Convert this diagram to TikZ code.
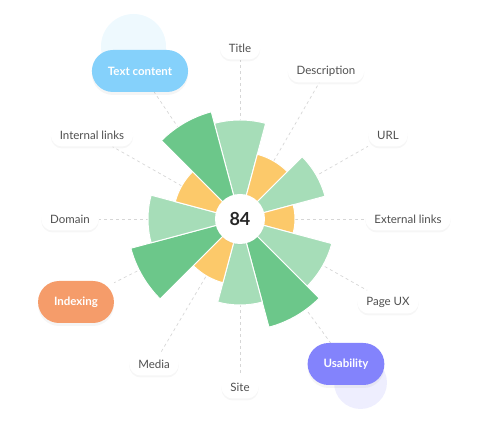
\documentclass[tikz,border=0pt]{standalone}
\usepackage{fontspec}
\setmainfont{Lato}
\usetikzlibrary{shadows,backgrounds}
\definecolor{darkg}{HTML}{6CC78A}
\definecolor{lightg}{HTML}{A6DDB8}
\definecolor{amber}{HTML}{FCC96A}
\definecolor{skyblue}{HTML}{85D1FB}
\definecolor{peach}{HTML}{F59C6A}
\definecolor{violet}{HTML}{8383FC}
\definecolor{txtgray}{HTML}{505050}
\definecolor{dashgray}{HTML}{D6D6D6}
\begin{document}
\begin{tikzpicture}[x=1pt,y=1pt,
lbl/.style={%
fill=white,
text=txtgray,
font=\fontsize{11.5}{13}\selectfont,
minimum height=23pt,
inner xsep=9pt,
rounded corners=11.5pt,
drop shadow={shadow xshift=0pt,shadow yshift=-2pt,opacity=.07}
},
big/.style={%
text=white,
font=\fontsize{11.5}{13}\selectfont\bfseries,
minimum height=42pt,
inner xsep=16pt,
rounded corners=21pt,
drop shadow={shadow xshift=0pt,shadow yshift=-3pt,opacity=.08}
},
spoke/.style={%
draw=dashgray,
dashed,
line width=.7pt
},
]
\useasboundingbox(-240,-211)rectangle(240,219);
%% score
\node[circle,fill=white,minimum size=50pt,inner sep=0pt,text=black!85,
  font=\fontsize{18}{20}\selectfont\bfseries,
  drop shadow={shadow xshift=0pt,shadow yshift=-1pt,opacity=.06}]at(0,0)(score){84};
%% criteria
\node[lbl]at(0,171)(title){Title};
\node[lbl]at(86,148)(desc){Description};
\node[lbl]at(148,84)(url){URL};
\node[lbl]at(168,0)(ext){External links};
\node[lbl]at(148,-83)(pageux){Page UX};
\node[lbl]at(0,-168)(site){Site};
\node[lbl]at(-86,-145)(media){Media};
\node[lbl]at(-170,0)(domain){Domain};
\node[lbl]at(-148,84)(internal){Internal links};
%% groups
\node[big,fill=skyblue]at(-100,148)(text){Text content};
\node[big,fill=peach]at(-164,-83)(indexing){Indexing};
\node[big,fill=violet]at(106,-145)(usability){Usability};
\begin{scope}[on background layer]
\fill[skyblue!14](-106.5,172.5)circle(32.5);
\fill[violet!14](120.5,-163.5)circle(26.5);
\foreach \n in {title,desc,url,ext,pageux,usability,site,media,indexing,domain,internal,text}
  \draw[spoke](score)--(\n);
\foreach \a/\r/\c in {90/99/lightg,60/67/amber,30/88/lightg,0/55/amber,
  -30/95/lightg,-60/112/darkg,-90/86/lightg,-120/66/amber,
  -150/113/darkg,180/92/lightg,150/67/amber,120/111/darkg}
  \filldraw[fill=\c,draw=white,line width=1pt](0,0)--(\a-15:\r)
    arc[start angle=\a-15,end angle=\a+15,radius=\r]--cycle;
\end{scope}
\end{tikzpicture}
\end{document}
